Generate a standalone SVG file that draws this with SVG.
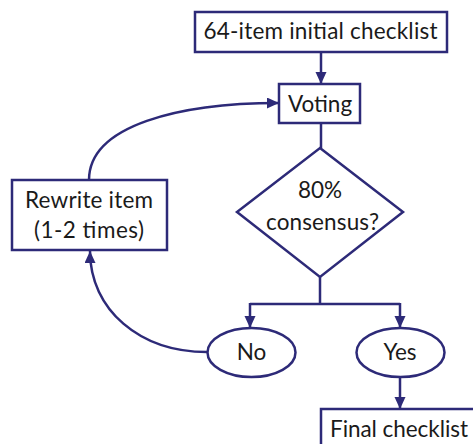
<svg xmlns="http://www.w3.org/2000/svg" width="473" height="444" viewBox="0 0 473 444">
<style>
.box{fill:#fff;stroke:#2d2a78;stroke-width:2.5}
.ln{fill:none;stroke:#2d2a78;stroke-width:2.5}
text{font-family:Lato,"Open Sans",sans-serif;font-size:22.5px;fill:#1a1a1a;text-anchor:middle}
</style>
<defs>
<marker id="ah" markerUnits="userSpaceOnUse" markerWidth="13" markerHeight="12" refX="12" refY="5.5" orient="auto">
<path d="M0,0 L12,5.5 L0,11 z" fill="#2d2a78"/>
</marker>
</defs>
<rect width="473" height="444" fill="#fff"/>
<g id="connectors">
<line class="ln" x1="321" y1="52" x2="321" y2="84" marker-end="url(#ah)"/>
<line class="ln" x1="321" y1="123" x2="321" y2="148"/>
<path class="ln" d="M320,277 L320,304 M250,304 L400,304"/>
<line class="ln" x1="250" y1="303" x2="250" y2="328" marker-end="url(#ah)"/>
<line class="ln" x1="400" y1="303" x2="400" y2="328" marker-end="url(#ah)"/>
<line class="ln" x1="400" y1="377" x2="400" y2="409" marker-end="url(#ah)"/>
<path class="ln" d="M207,352 C140,352 90,310 90,251" marker-end="url(#ah)"/>
<path class="ln" d="M89,180 C89,125 180,103 279,103" marker-end="url(#ah)"/>
</g>
<g id="node-initial">
<rect class="box" x="195" y="12" width="252" height="40"/>
<text x="320.5" y="39" textLength="234" lengthAdjust="spacing">64-item initial checklist</text>
</g>
<g id="node-voting">
<rect class="box" x="279" y="84" width="81" height="39"/>
<text x="320" y="112">Voting</text>
</g>
<g id="node-consensus">
<polygon class="box" points="320,148 403,212 320,277 237,212"/>
<text x="320" y="198">80%</text>
<text x="322.5" y="230" textLength="113" lengthAdjust="spacing">consensus?</text>
</g>
<g id="node-rewrite">
<rect class="box" x="12" y="180" width="155" height="70"/>
<text x="89" y="208" textLength="128" lengthAdjust="spacing">Rewrite item</text>
<text x="89" y="238" textLength="110" lengthAdjust="spacing">(1-2 times)</text>
</g>
<g id="node-no">
<ellipse class="box" cx="251.5" cy="352.5" rx="44" ry="24.5"/>
<text x="251.5" y="360">No</text>
</g>
<g id="node-yes">
<ellipse class="box" cx="400.5" cy="352.5" rx="44" ry="24.5"/>
<text x="400" y="360">Yes</text>
</g>
<g id="node-final">
<rect class="box" x="321" y="409" width="170" height="50"/>
<text x="399" y="437" textLength="138" lengthAdjust="spacing">Final checklist</text>
</g>
</svg>
